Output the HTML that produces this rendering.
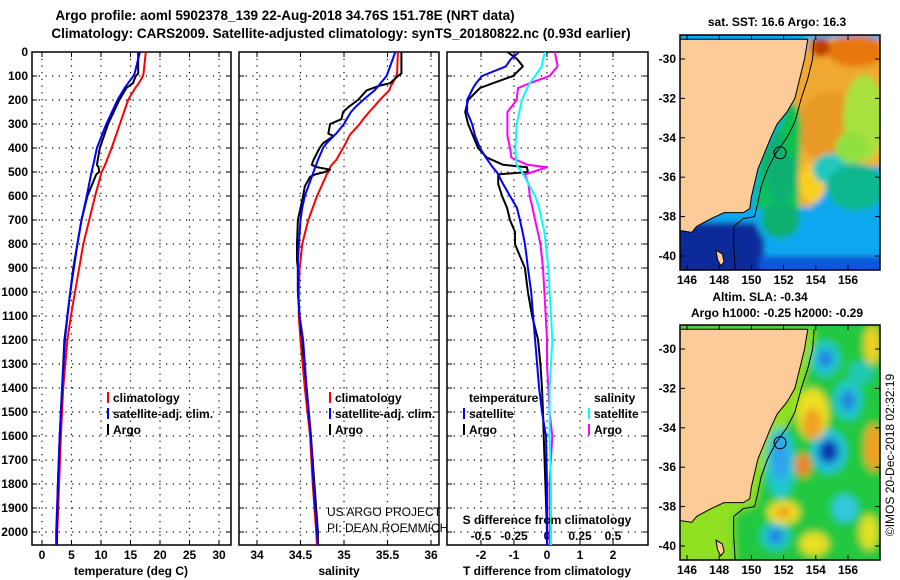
<!DOCTYPE html>
<html><head><meta charset="utf-8"><style>
body{margin:0;background:#fff;}
svg{display:block;font-family:"Liberation Sans",sans-serif;}
.t{font-weight:bold;font-size:12px;fill:#000;}
.ttl{font-weight:bold;font-size:13.5px;fill:#000;}
</style></head><body>
<svg id="s" width="900" height="580" viewBox="0 0 900 580" xmlns="http://www.w3.org/2000/svg">
<defs>
<clipPath id="cp1"><rect x="32" y="52" width="199" height="493"/></clipPath>
<clipPath id="cp2"><rect x="239" y="52" width="200" height="493"/></clipPath>
<clipPath id="cp3"><rect x="447" y="52" width="201" height="493"/></clipPath>
<clipPath id="cm1"><rect x="680" y="35" width="200" height="235"/></clipPath>
<clipPath id="cm2"><rect x="680" y="325" width="200" height="235"/></clipPath>
<filter id="bl" x="-20%" y="-20%" width="140%" height="140%"><feGaussianBlur stdDeviation="3"/></filter>
<filter id="bl2" x="-50%" y="-50%" width="200%" height="200%"><feGaussianBlur stdDeviation="4"/></filter>
</defs>
<text class="ttl" x="285" y="20" text-anchor="middle">Argo profile: aoml 5902378_139 22-Aug-2018 34.76S 151.78E (NRT data)</text>
<text class="ttl" x="341" y="38" text-anchor="middle">Climatology: CARS2009. Satellite-adjusted climatology: synTS_20180822.nc (0.93d earlier)</text>
<g id="g"></g>
</svg>
<script>
// ---- data ----
const tDepth=[0,90,100,130,150,200,300,400,470,480,500,510,600,700,800,900,1000,1100,1200,1400,1600,1800,2000,2055];
const tClim=[17.6,17.2,17.1,16.4,15.8,14.6,13.2,11.8,10.7,10.5,10.1,10.0,9.0,8.0,7.0,6.3,5.6,4.9,4.3,3.6,3.2,2.9,2.6,2.5];
const tSat=[16.6,15.7,15.5,14.6,14.0,12.8,10.9,9.3,8.7,8.6,8.4,8.3,7.6,6.7,6.0,5.4,4.8,4.3,3.9,3.4,3.0,2.7,2.4,2.4];
const tArgo=[16.3,16.3,15.9,15.4,14.3,13.1,11.2,9.8,9.3,9.6,9.7,9.2,7.7,6.7,6.0,5.3,4.8,4.3,3.8,3.4,3.0,2.7,2.5,2.5];
const sDepth=[0,90,100,130,140,160,200,230,250,280,300,340,350,380,400,450,470,480,490,500,510,520,560,600,650,700,800,870,900,1000,1100,1200,1400,1600,1800,2000,2055];
const sClim=[35.62,35.61,35.60,35.56,35.54,35.52,35.41,35.34,35.29,35.22,35.18,35.08,35.06,35.02,34.99,34.91,34.86,34.84,34.83,34.82,34.80,34.79,34.74,34.69,34.64,34.59,34.52,34.50,34.49,34.48,34.48,34.50,34.55,34.61,34.64,34.68,34.69];
const sSat=[35.59,35.50,35.49,35.42,35.40,35.35,35.22,35.13,35.08,35.03,35.00,34.91,34.88,34.80,34.76,34.70,34.68,34.67,34.66,34.65,34.64,34.63,34.59,34.55,34.52,34.50,34.48,34.47,34.47,34.47,34.49,34.53,34.57,34.62,34.65,34.69,34.70];
const sArgo=[35.66,35.66,35.62,35.53,35.41,35.26,35.16,35.05,34.99,34.97,34.84,34.82,34.88,34.76,34.72,34.65,34.63,34.69,34.84,34.78,34.67,34.61,34.55,34.53,34.50,34.47,34.46,34.46,34.47,34.47,34.49,34.52,34.57,34.62,34.66,34.70,34.70];
const dDepth=[0,30,60,100,130,150,200,250,300,350,400,440,470,480,500,510,550,600,650,700,750,800,850,900,1000,1100,1200,1300,1400,1500,1600,1800,2000,2055];
const dTSat=[-0.85,-1.1,-1.25,-1.97,-2.15,-2.24,-2.42,-2.42,-2.27,-2.18,-2.03,-1.85,-1.7,-1.65,-1.52,-1.48,-1.33,-1.12,-0.91,-0.82,-0.74,-0.67,-0.62,-0.58,-0.48,-0.42,-0.36,-0.3,-0.24,-0.15,-0.03,0,0,0];
const dTArgo=[-1.2,-0.9,-0.73,-1.03,-1.64,-2.03,-2.39,-2.48,-2.39,-2.24,-2.09,-1.82,-1.33,-0.61,-0.58,-1.48,-1.48,-1.36,-1.21,-1.12,-0.97,-0.97,-0.82,-0.67,-0.58,-0.45,-0.27,-0.2,-0.15,-0.12,-0.1,-0.05,0,0];
const dSSat=[-0.015,-0.03,-0.04,-0.09,-0.13,-0.15,-0.19,-0.21,-0.23,-0.235,-0.24,-0.235,-0.23,-0.22,-0.19,-0.18,-0.14,-0.09,-0.06,-0.04,-0.02,-0.01,0,0.01,0.02,0.03,0.04,0.03,0.02,0.02,0.02,0.03,0.03,0.03];
const dSArgo=[0.06,0.07,0.08,0.02,-0.13,-0.22,-0.23,-0.3,-0.3,-0.3,-0.28,-0.27,-0.15,0,-0.11,-0.17,-0.14,-0.13,-0.11,-0.09,-0.07,-0.05,-0.04,-0.03,-0.02,-0.01,0,0,0.01,0.02,0.04,0.02,0.02,0.02];
const depthTicks=[0,100,200,300,400,500,600,700,800,900,1000,1100,1200,1300,1400,1500,1600,1700,1800,1900,2000];
const tTicks=[0,5,10,15,20,25,30];
const sTicks=[34,34.5,35,35.5,36];
const sTickLabels=["34","34.5","35","35.5","36"];
const dTTicks=[-2,-1,0,1,2];
const dSTicks=[-0.5,-0.25,0,0.25,0.5];
const dSTickLabels=["-0.5","-0.25","0","0.25","0.5"];
const latTicks=[-30,-32,-34,-36,-38,-40];
const lonTicks=[146,148,150,152,154,156];
const argoPos=[151.78,-34.76];

// ---- scales ----
const yD=d=>52+d*0.24;
const xT=v=>42+v*5.9;
const xS=v=>257+(v-34)*87;
const xDT=v=>547+v*33;
const xDS=v=>547+v*132;
const NS="http://www.w3.org/2000/svg";
const G=document.getElementById('g');
function mk(tag,attrs,parent){const e=document.createElementNS(NS,tag);for(const k in attrs)e.setAttribute(k,attrs[k]);(parent||G).appendChild(e);return e;}
function txt(x,y,s,cls,anchor,parent){const e=mk('text',{x:x,y:y,class:cls||'t','text-anchor':anchor||'middle'},parent);e.textContent=s;return e;}

function panel(x0,x1,xs,ticks,labels,clip,name){
  const g=mk('g',{});
  
  
  depthTicks.forEach(d=>{ if(d>0){mk('line',{x1:x0,x2:x1,y1:yD(d),y2:yD(d),stroke:'#000','stroke-width':1.2,'stroke-dasharray':'1.2 5.5'},g);}
    mk('line',{x1:x0,x2:x0+5,y1:yD(d),y2:yD(d),stroke:'#000'},g);mk('line',{x1:x1-5,x2:x1,y1:yD(d),y2:yD(d),stroke:'#000'},g);});
  ticks.forEach((t,i)=>{const x=xs(t);mk('line',{x1:x,x2:x,y1:52,y2:545,stroke:'#000','stroke-width':1.2,'stroke-dasharray':'1.2 5.5'},g);
    mk('line',{x1:x,x2:x,y1:540,y2:545,stroke:'#000'},g);mk('line',{x1:x,x2:x,y1:52,y2:57,stroke:'#000'},g);
    if(labels){const tl=txt(x,559,labels[i],'t','middle',g);}});
  const r=mk('rect',{x:x0,y:52,width:x1-x0,height:493,fill:'none',stroke:'#000','stroke-width':1.5},g);
  
  
  return g;
}
function series(dep,vals,xs,color,clip,name,w){
  let d='';dep.forEach((z,i)=>{d+=(i?'L':'M')+xs(vals[i]).toFixed(1)+' '+yD(z).toFixed(1);});
  const p=mk('path',{d:d,fill:'none',stroke:color,'stroke-width':w||2,'clip-path':'url(#'+clip+')','stroke-linejoin':'round'});
  
  
}
depthTicks.forEach(d=>{const e=txt(28,yD(d)+4,String(d),'t','end');
  
  });
panel(32,231,xT,tTicks,tTicks.map(String),'cp1','temperature-panel');
panel(239,439,xS,sTicks,sTickLabels,'cp2','salinity-panel');
panel(447,648,xDT,dTTicks,dTTicks.map(String),'cp3','difference-panel');
dSTicks.forEach((t,i)=>{const e=txt(xDS(t),540,dSTickLabels[i]);
  
  });
series(tDepth,tClim,xT,'#ff0000','cp1','temp-climatology-line');
series(tDepth,tArgo,xT,'#000000','cp1','temp-argo-line');
series(tDepth,tSat,xT,'#0000ff','cp1','temp-satellite-line');
series(sDepth,sClim,xS,'#ff0000','cp2','sal-climatology-line');
series(sDepth,sArgo,xS,'#000000','cp2','sal-argo-line');
series(sDepth,sSat,xS,'#0000ff','cp2','sal-satellite-line');
series(dDepth,dTArgo,xDT,'#000000','cp3','tdiff-argo-line');
series(dDepth,dTSat,xDT,'#0000ff','cp3','tdiff-satellite-line');
series(dDepth,dSArgo,xDS,'#ff00ff','cp3','sdiff-argo-line');
series(dDepth,dSSat,xDS,'#00ffff','cp3','sdiff-satellite-line');
[[131,'temperature (deg C)'],[339,'salinity'],[547,'T difference from climatology']].forEach(a=>{const e=txt(a[0],575,a[1]);
  
  });
const sdt=txt(547,524,'S difference from climatology');


function leg(x,y,color,label){
  const g=mk('g',{});
  
  
  if(color)mk('rect',{x:x-6,y:y-10,width:2,height:11,fill:color},g);
  txt(x,y,label,'t','start',g);
}
leg(113,402,'#ff0000','climatology');leg(113,418,'#0000ff','satellite-adj. clim.');leg(113,434,'#000','Argo');
leg(335,402,'#ff0000','climatology');leg(335,418,'#0000ff','satellite-adj. clim.');leg(335,434,'#000','Argo');
leg(469,402,null,'temperature');leg(469,418,'#0000ff','satellite');leg(469,434,'#000','Argo');
leg(594,402,null,'salinity');leg(594,418,'#00ffff','satellite');leg(594,434,'#ff00ff','Argo');
const c1=mk('text',{x:327,y:516,'font-size':'12px',fill:'#000'});c1.textContent='US ARGO PROJECT';

const c2=mk('text',{x:327,y:532,'font-size':'12px',fill:'#000'});c2.textContent='PI: DEAN ROEMMICH';


// ---- maps ----
const land=[[153.5,-29],[153.3,-30],[153.0,-31],[152.7,-32],[152.2,-32.7],[151.6,-33.3],[151.2,-34],[150.8,-34.8],[150.4,-35.6],[150.2,-36.3],[150,-37],[149.9,-37.6],[149.5,-37.8],[148.3,-37.8],[147.5,-38.1],[146.6,-38.5],[146.3,-38.8],[145.5,-38.7],[145.5,-29]];
const tas=[[147.8,-39.7],[148.2,-39.9],[148.3,-40.3],[148.1,-40.5],[147.9,-40.2]];
const iso=[[153.9,-29],[153.8,-30],[153.5,-31],[153.1,-32],[152.7,-33.2],[152.2,-34],[151.5,-34.8],[151,-35.6],[150.6,-36.5],[150.4,-37.3],[150.2,-38],[149.5,-38.1],[148.9,-38.5],[148.9,-39.5],[149,-40.8]];
const sstBlobs=[
 [155.5,-31.5,3.2,2.6,'#f0a830'],[155,-33.5,2.2,1.8,'#e89a28'],[157,-33,1.3,2.2,'#a8e040'],[153.8,-36.3,0.8,1.0,'#f8d020'],
 [156.5,-29.6,1.8,0.8,'#e87810'],[154.3,-29.4,0.6,0.5,'#c04000'],[155,-35.6,1.2,0.8,'#20c8c0'],[156.5,-36.5,1.8,1.2,'#10b890'],
 [151.8,-38.2,1.2,0.9,'#10b070'],[151.8,-35.5,1.0,1.8,'#10b070'],[152.5,-33.6,0.6,1.4,'#10c050'],[156.2,-34.5,1.0,0.8,'#90e040']];
const slaBlobs=[
 [154.6,-30.5,0.9,0.9,'#20c8d0'],[154.6,-30.5,0.45,0.45,'#2080e0'],
 [156,-32.6,0.9,1.0,'#20c8d0'],[156,-32.6,0.45,0.5,'#2080e0'],
 [154.8,-35.2,1.1,1.1,'#20c0e0'],[154.8,-35.2,0.6,0.6,'#1030b0'],
 [151.8,-35.8,0.9,1.8,'#20c8d0'],[151.8,-35.5,0.5,1.2,'#30a0f0'],
 [155.8,-38.1,0.8,0.7,'#30c8e0'],[151.5,-39.5,0.9,0.7,'#20c8d0'],[151.5,-39.5,0.45,0.4,'#2080e0'],
 [153.8,-33.3,1.0,1.3,'#f0e020'],[153.8,-33.8,0.6,0.8,'#f0a020'],[153.2,-35.9,0.5,0.6,'#f08020'],
 [152,-38.3,1.0,0.6,'#f0e020'],[152,-38.3,0.5,0.3,'#f0a020'],[157.6,-35,0.6,1.2,'#f0a020'],[157.5,-29.8,0.5,1.0,'#f0d020'],
 [153.9,-39.9,0.9,0.6,'#e8e020'],[157.3,-39.3,0.6,0.9,'#e0e020'],[156.8,-31.2,0.8,0.6,'#20c8b0']];
function map(y0,latY0,clip,name,isSST){
  const X=l=>687+(l-146)*16.1, Y=la=>latY0+(-la-30)*19.7;
  const g=mk('g',{'clip-path':'url(#'+clip+')'});
  
  
  const fg=mk('g',{filter:isSST?'url(#bl)':'url(#bl2)'},g);
  if(isSST){
    mk('rect',{x:670,y:y0-10,width:220,height:255,fill:'#10a8f0'},fg);
    const poly=(pts,c)=>mk('polygon',{points:pts.map(p=>X(p[0])+','+Y(p[1])).join(' '),fill:c},fg);
    poly([[153.5,-29],[158.5,-29],[158.5,-35.5],[155.5,-35.3],[154,-35.3],[153.8,-37.5],[152.8,-37.5],[152.8,-34],[153.2,-32]],'#f0b030');
    poly([[152,-33],[153,-31],[153.2,-33],[152.9,-36],[153,-37.7],[151,-37.7],[150.2,-37.6],[150.5,-35]],'#10c060');
    poly([[145,-38.3],[150.2,-38.3],[150.8,-39.2],[150.8,-41],[145,-41]],'#0a2c9a');
    poly([[150.5,-40],[158.5,-40],[158.5,-41],[150.5,-41]],'#1058d8');
    sstBlobs.forEach(b=>mk('ellipse',{cx:X(b[0]),cy:Y(b[1]),rx:b[2]*16.1,ry:b[3]*19.7,fill:b[4]},fg));
  } else {
    mk('rect',{x:670,y:y0-10,width:220,height:255,fill:'#20c840'},fg);
    mk('polygon',{points:iso.map(p=>X(p[0])+','+Y(p[1])).join(' ')+' '+X(145)+','+Y(-41)+' '+X(145)+','+Y(-29),fill:'#90e020'},fg);
    slaBlobs.forEach(b=>mk('ellipse',{cx:X(b[0]),cy:Y(b[1]),rx:b[2]*16.1,ry:b[3]*19.7,fill:b[4]},fg));
  }
  mk('polygon',{points:land.map(p=>X(p[0])+','+Y(p[1])).join(' '),fill:'#fccb97',stroke:'#000','stroke-width':1},g);
  mk('polygon',{points:tas.map(p=>X(p[0])+','+Y(p[1])).join(' '),fill:'#fccb97',stroke:'#000','stroke-width':1},g);
  mk('polyline',{points:iso.map(p=>X(p[0])+','+Y(p[1])).join(' '),fill:'none',stroke:'#000','stroke-width':1},g);
  const c=mk('circle',{cx:X(argoPos[0]),cy:Y(argoPos[1]),r:6,fill:'none',stroke:'#000','stroke-width':1});
  
  
  const fr=mk('rect',{x:680,y:y0,width:200,height:235,fill:'none',stroke:'#000','stroke-width':1.5});
  
  
  latTicks.forEach(la=>{const y=Y(la);mk('line',{x1:680,x2:685,y1:y,y2:y,stroke:'#000'});mk('line',{x1:875,x2:880,y1:y,y2:y,stroke:'#000'});
    const e=txt(676,y+4,String(la),'t','end');
    
    });
  lonTicks.forEach(lo=>{const x=X(lo);mk('line',{x1:x,x2:x,y1:y0,y2:y0+5,stroke:'#000'});mk('line',{x1:x,x2:x,y1:y0+230,y2:y0+235,stroke:'#000'});
    const e=txt(x,y0+249,String(lo));
    
    });
}
map(35,59,'cm1','sst-map',true);
map(325,349,'cm2','sla-map',false);
const m1=txt(777,26,'sat. SST: 16.6 Argo: 16.3');
const m2=txt(760,301,'Altim. SLA: -0.34');
const m3=txt(777,317,'Argo h1000: -0.25 h2000: -0.29');
const im=mk('text',{x:0,y:0,'font-size':'12px',fill:'#000','text-anchor':'middle',transform:'translate(894,455) rotate(-90)'});
im.textContent='©IMOS 20-Dec-2018 02:32:19';


</script>
</body></html>
